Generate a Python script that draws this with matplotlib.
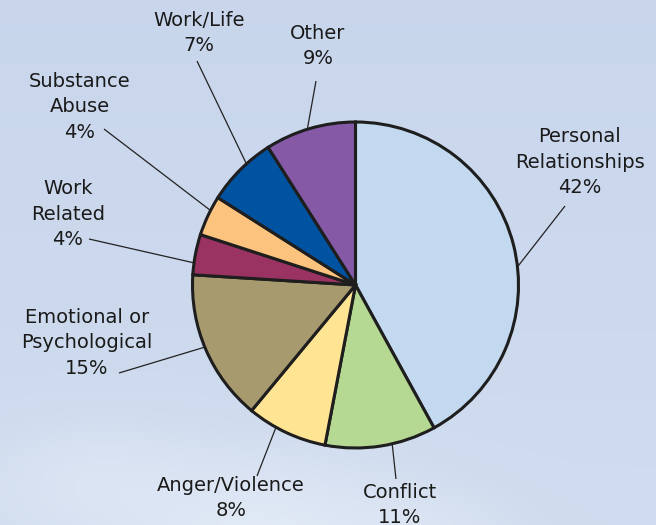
import numpy as np
import matplotlib
matplotlib.use("Agg")
import matplotlib.pyplot as plt

# ---- data ----
categories = ["Personal\nRelationships", "Conflict", "Anger/Violence",
              "Emotional or\nPsychological", "Work\nRelated", "Substance\nAbuse",
              "Work/Life", "Other"]
values = [42, 11, 8, 15, 4, 4, 7, 9]
colors = ["#c2d9ef", "#b5d993", "#ffe593", "#a89a6f", "#9a3262",
          "#fcc37f", "#0053a1", "#8559a5"]

# label text centre (image px) and leader-line outer end (image px)
label_pos = [(580, 162), (400, 505), (231, 498), (87, 343), (68, 214),
             (80, 107), (199, 33), (318, 46)]
leader_out = [(565, 206), (396, 479), (257, 476), (119, 373), (89, 239),
              (104, 129), (197, 61), (316, 81)]
leader_shift = [-8, 4, -4, -1, 3, -2, -3, 1]  # degrees

W, H = 656, 525
fig = plt.figure(figsize=(W / 100, H / 100), dpi=100)
ax = fig.add_axes([0, 0, 1, 1])

# ---- background sky ----
yy, xx = np.mgrid[0:H, 0:W]
t = yy / H
top = np.array([0.785, 0.838, 0.925])
bot = np.array([0.815, 0.862, 0.935])
img = top[None, None, :] * (1 - t[..., None]) + bot[None, None, :] * t[..., None]
for ccx, ccy, sx, sy, a in [(260, 530, 150, 75, 0.6), (90, 480, 110, 60, 0.35),
                            (420, 530, 90, 40, 0.25)]:
    g = np.exp(-(((xx - ccx) / sx) ** 2 + ((yy - ccy) / sy) ** 2))
    img = img * (1 - a * g[..., None]) + np.array([0.92, 0.945, 0.98]) * a * g[..., None]
ax.imshow(img, extent=(0, W, 0, H), origin="upper", zorder=0, aspect="auto")

cx, cy, R = 355.5, H - 285, 163
wedges, _ = ax.pie(values, colors=colors, startangle=90, counterclock=False,
                   center=(cx, cy), radius=R, frame=True,
                   wedgeprops=dict(edgecolor="#1e1e1e", linewidth=2.2))
for w in wedges:
    w.set_zorder(3)
ax.set_xlim(0, W)
ax.set_ylim(0, H)
ax.set_aspect("equal")
ax.axis("off")

for w, lab, val, (lx, ly), (ox, oy), sh in zip(wedges, categories, values, label_pos,
                                               leader_out, leader_shift):
    ang = np.deg2rad((w.theta1 + w.theta2) / 2 + sh)
    ix, iy = cx + R * np.cos(ang), cy + R * np.sin(ang)
    ax.plot([ix, ox], [iy, H - oy], color="#222222", lw=0.9, zorder=2,
            solid_capstyle="butt")
    ax.text(lx, H - ly, f"{lab}\n{val}%",
            ha="center", va="center", fontsize=14, color="#1a1a1a",
            family="DejaVu Sans", linespacing=1.42, zorder=4)

fig.savefig("out.png", dpi=100)
